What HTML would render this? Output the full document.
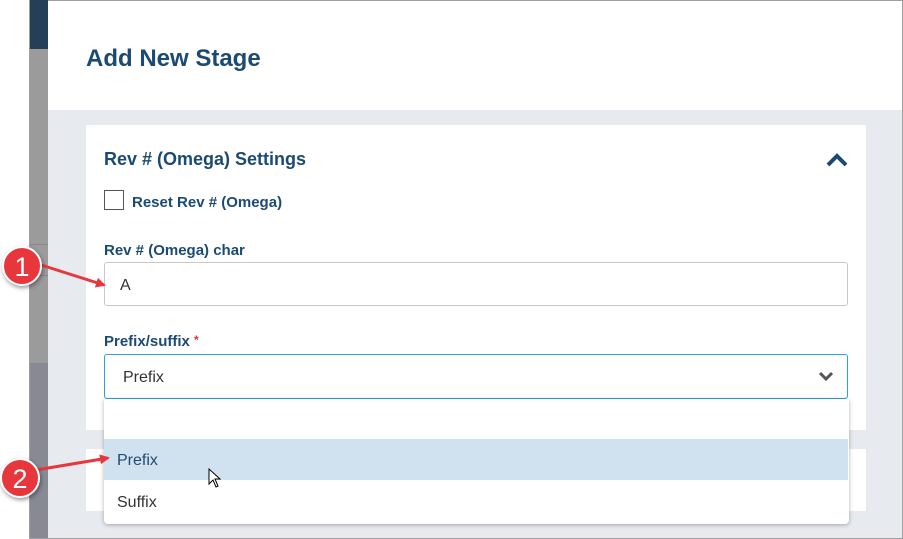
<!DOCTYPE html>
<html><head><style>
body{margin:0;width:903px;height:539px;overflow:hidden;background:#fff;font-family:"Liberation Sans",sans-serif;position:relative}
div{position:absolute;box-sizing:border-box}
.t{color:#1b4a72;font-weight:bold;white-space:nowrap}
</style></head><body>
<div style="left:29px;top:0;width:874px;height:539px;border:1px solid #a0a0a0;background:#fff"></div>
<div style="left:30px;top:0;width:18px;height:49px;background:#243f57"></div>
<div style="left:30px;top:49px;width:18px;height:314px;background:#9b9b9b"></div>
<div style="left:30px;top:244px;width:18px;height:32px;border-top:1px solid #888;border-bottom:1px solid #888"></div>
<div style="left:30px;top:363px;width:18px;height:175px;background:#878a93"></div>
<div class="t" style="left:86px;top:45px;font-size:24px">Add New Stage</div>
<div style="left:48px;top:110px;width:854px;height:428px;background:#e7eaee"></div>
<div style="left:86px;top:125px;width:780px;height:305px;background:#fff"></div>
<div style="left:86px;top:449px;width:780px;height:62px;background:#fff"></div>
<div class="t" style="left:104px;top:149px;font-size:18px">Rev # (Omega) Settings</div>
<svg style="position:absolute;left:826px;top:152px" width="22" height="16"><path d="M2 13 L11 4 L20 13" stroke="#1b4a72" stroke-width="4" fill="none"/></svg>
<div style="left:104px;top:190px;width:20px;height:20px;border:1px solid #555;background:#fff"></div>
<div class="t" style="left:132px;top:194px;font-size:15px">Reset Rev # (Omega)</div>
<div class="t" style="left:104px;top:242px;font-size:15px">Rev # (Omega) char</div>
<div style="left:104px;top:262px;width:744px;height:44px;border:1px solid #c8c8c8;border-radius:3px;background:#fff"></div>
<div style="left:120px;top:277px;font-size:16px;color:#333">A</div>
<div class="t" style="left:104px;top:333px;font-size:15px">Prefix/suffix <span style="color:#d32;font-size:12px;vertical-align:top">*</span></div>
<div style="left:104px;top:354px;width:744px;height:45px;border:1px solid #29a3dc;border-radius:3px;background:#fff"></div>
<div style="left:123px;top:369px;font-size:16px;color:#333">Prefix</div>
<svg style="position:absolute;left:817px;top:369px" width="18" height="14"><path d="M3 4 L9 10 L15 4" stroke="#555" stroke-width="3" fill="none"/></svg>
<div style="left:104px;top:399px;width:745px;height:125px;background:#fff;border-radius:0 0 4px 4px;box-shadow:0 1px 4px rgba(0,0,0,.3)"></div>
<div style="left:104px;top:439px;width:744px;height:41px;background:#d0e2f0"></div>
<div style="left:117px;top:452px;font-size:16px;color:#244a6e">Prefix</div>
<div style="left:117px;top:494px;font-size:16px;color:#333">Suffix</div>
<svg style="position:absolute;left:0;top:0" width="903" height="539">
<defs><marker id="a" markerWidth="10" markerHeight="10" refX="8" refY="5" orient="auto" markerUnits="userSpaceOnUse"><path d="M0 0 L10 5 L0 10z" fill="#e8373c"/></marker></defs>
<path d="M209 469 L209 484 L213 480 L216 487 L218 486 L215 479 L220 479 Z" fill="#fff" stroke="#000" stroke-width="1"/>
<line x1="38" y1="264" x2="104" y2="285" stroke="#e8373c" stroke-width="3" marker-end="url(#a)"/>
<line x1="36" y1="470" x2="108" y2="458" stroke="#e8373c" stroke-width="3" marker-end="url(#a)"/>
<circle cx="22" cy="266" r="19" fill="#e8373c" stroke="#fff" stroke-width="2" style="filter:drop-shadow(1px 2px 2px rgba(0,0,0,.4))"/>
<circle cx="20" cy="478" r="19" fill="#e8373c" stroke="#fff" stroke-width="2" style="filter:drop-shadow(1px 2px 2px rgba(0,0,0,.4))"/>
<text x="22" y="276" text-anchor="middle" font-size="27" fill="#fff" font-family="Liberation Sans">1</text>
<text x="20" y="488" text-anchor="middle" font-size="27" fill="#fff" font-family="Liberation Sans">2</text>
</svg>
</body></html>
